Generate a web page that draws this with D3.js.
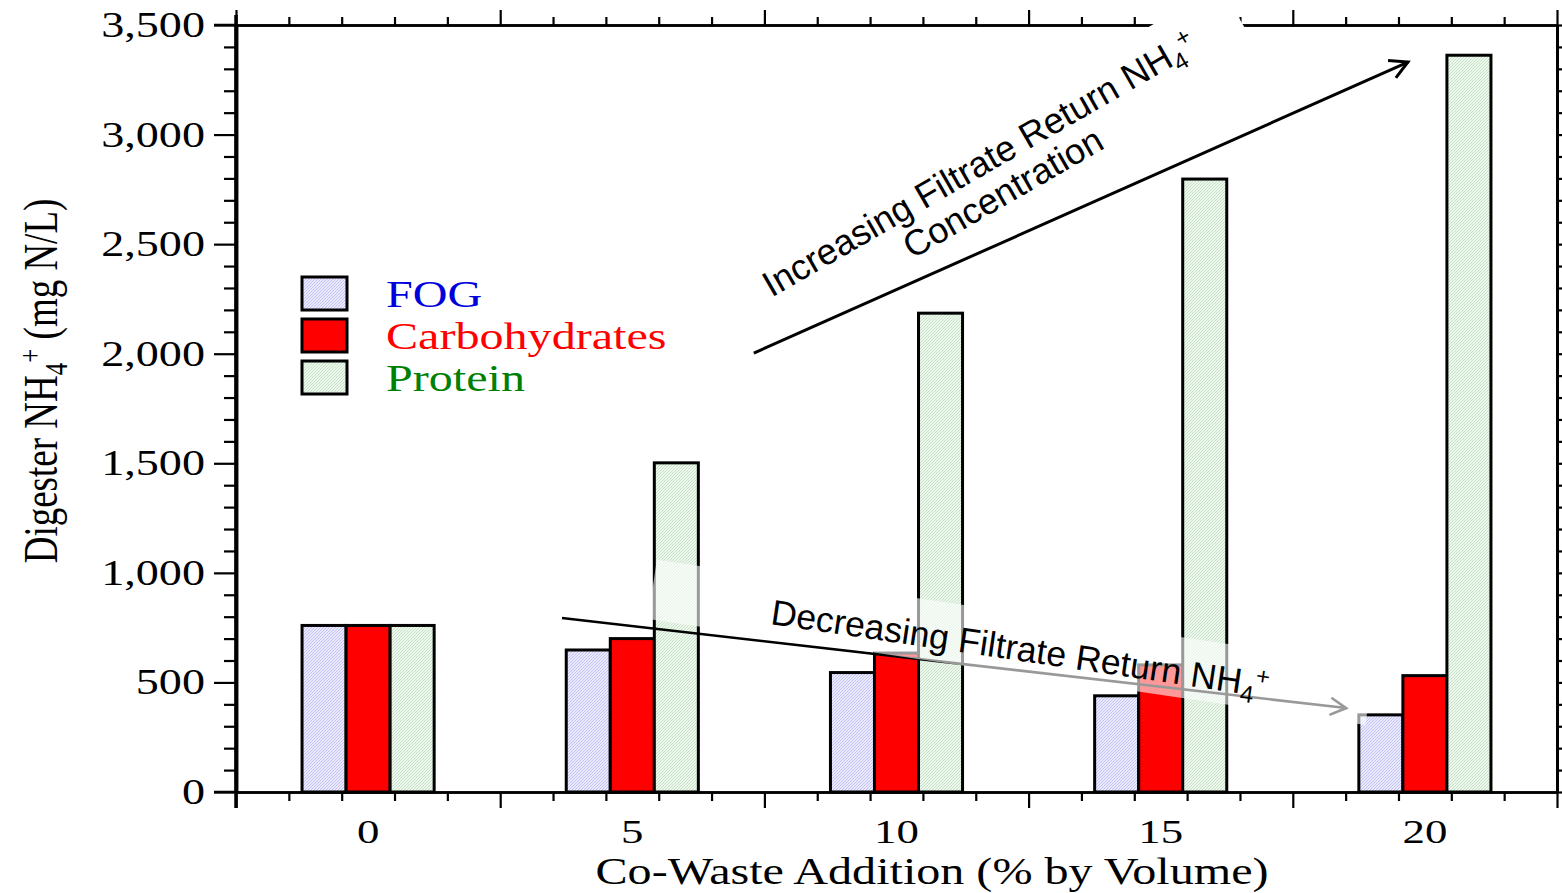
<!DOCTYPE html>
<html>
<head>
<meta charset="utf-8">
<script src="https://cdn.jsdelivr.net/npm/d3@7"></script>
<style>
  html, body { margin: 0; padding: 0; background: #fff; }
  svg { display: block; }
  .serif { font-family: "Liberation Serif", "Times New Roman", serif; }
  .sans { font-family: "Liberation Sans", Arial, sans-serif; }
</style>
</head>
<body>
<svg id="chart" width="1562" height="893"></svg>
<script>
// Co-waste addition levels (% by volume)
const categories = [0, 5, 10, 15, 20];
// Digester NH4+ (mg N/L) for each co-waste type
const fog      = [760, 648, 545, 439, 352];
const carbs    = [760, 700, 634, 580, 531];
const protein  = [760, 1502, 2185, 2797, 3362];
const seriesNames = ["FOG", "Carbohydrates", "Protein"];
const yTickValues = [0, 500, 1000, 1500, 2000, 2500, 3000, 3500];

const W = 1562, H = 893;
const plot = { left: 236, right: 1557, top: 25, bottom: 792 };
const STRETCH = 1.3; // horizontal stretch of the serif labels

const svg = d3.select("#chart");

// x is a continuous category axis: each category occupies a 5-unit slot
const x = d3.scaleLinear().domain([-2.5, 22.5]).range([plot.left, plot.right]);
const y = d3.scaleLinear().domain([0, 3500]).range([plot.bottom, plot.top]);

const xMajor = d3.range(-2.5, 22.6, 5);
const xMinor = d3.range(-2.5, 22.6, 1).filter(v => !xMajor.some(m => Math.abs(m - v) < 1e-6));
const yMinor = d3.range(0, 3501, 100).filter(v => v % 500 !== 0);

// ---- fill patterns ----
const defs = svg.append("defs");
function hatch(id, bg, fg) {
  const p = defs.append("pattern").attr("id", id)
    .attr("patternUnits", "userSpaceOnUse").attr("width", 3).attr("height", 3);
  p.append("rect").attr("width", 3).attr("height", 3).attr("fill", bg);
  p.append("path").attr("d", "M-1,1 l2,-2 M0,3 l3,-3 M2,4 l2,-2")
    .attr("stroke", fg).attr("stroke-width", 0.7);
}
hatch("fogFill", "#eaeafc", "#b0b0f2");
hatch("protFill", "#edf7ed", "#b6dab6");
const fills = ["url(#fogFill)", "#ff0000", "url(#protFill)"];
const labelColors = ["#0000dd", "#ff0000", "#008000"];

// ---- bars ----
const series = [fog, carbs, protein];
const groupWidth = 2.5, barW = groupWidth / 3;
const barsG = svg.append("g");
series.forEach((vals, si) => {
  barsG.selectAll(null).data(categories.map((c, i) => ({ c, v: vals[i] })))
    .join("rect")
    .attr("x", d => x(d.c - groupWidth / 2 + si * barW))
    .attr("width", d => x(d.c - groupWidth / 2 + (si + 1) * barW) - x(d.c - groupWidth / 2 + si * barW))
    .attr("y", d => y(d.v))
    .attr("height", d => y(0) - y(d.v))
    .attr("fill", fills[si])
    .attr("stroke", "#000")
    .attr("stroke-width", 3);
});

// ---- axes ----
function styleAxis(g, w) {
  g.selectAll("path.domain").attr("stroke", "#000").attr("stroke-width", w);
  g.selectAll(".tick line").attr("stroke", "#000").attr("stroke-width", 2.2);
  g.selectAll(".tick text").remove();
}
const axes = svg.append("g");
// left
axes.append("g").attr("transform", `translate(${plot.left},0)`)
  .call(d3.axisLeft(y).tickValues(yTickValues).tickSize(22).tickSizeOuter(0)).call(g => styleAxis(g, 3.5));
axes.append("g").attr("transform", `translate(${plot.left},0)`)
  .call(d3.axisLeft(y).tickValues(yMinor).tickSize(12).tickSizeOuter(0)).call(g => styleAxis(g, 3.5));
// right
axes.append("g").attr("transform", `translate(${plot.right},0)`)
  .call(d3.axisRight(y).tickValues(yTickValues).tickSize(22).tickSizeOuter(0)).call(g => styleAxis(g, 3));
axes.append("g").attr("transform", `translate(${plot.right},0)`)
  .call(d3.axisRight(y).tickValues(yMinor).tickSize(12).tickSizeOuter(0)).call(g => styleAxis(g, 3));
// bottom
axes.append("g").attr("transform", `translate(0,${plot.bottom})`)
  .call(d3.axisBottom(x).tickValues(xMajor).tickSize(16).tickSizeOuter(0)).call(g => styleAxis(g, 2.5));
axes.append("g").attr("transform", `translate(0,${plot.bottom})`)
  .call(d3.axisBottom(x).tickValues(xMinor).tickSize(9).tickSizeOuter(0)).call(g => styleAxis(g, 2.5));
// top
axes.append("g").attr("transform", `translate(0,${plot.top})`)
  .call(d3.axisTop(x).tickValues(xMajor).tickSize(15).tickSizeOuter(0)).call(g => styleAxis(g, 2.5));
axes.append("g").attr("transform", `translate(0,${plot.top})`)
  .call(d3.axisTop(x).tickValues(xMinor).tickSize(8).tickSizeOuter(0)).call(g => styleAxis(g, 2.5));
// extend the left axis a little past the top and bottom lines
axes.append("line").attr("x1", plot.left).attr("x2", plot.left)
  .attr("y1", plot.top - 10).attr("y2", plot.bottom + 16)
  .attr("stroke", "#000").attr("stroke-width", 3.5);
axes.append("line").attr("x1", plot.left - 22).attr("x2", plot.left)
  .attr("y1", plot.top).attr("y2", plot.top).attr("stroke", "#000").attr("stroke-width", 2.5);
axes.append("line").attr("x1", plot.left - 22).attr("x2", plot.left)
  .attr("y1", plot.bottom).attr("y2", plot.bottom).attr("stroke", "#000").attr("stroke-width", 2.5);

// ---- tick labels and titles (stretched serif) ----
const fmt = d3.format(",");
const labels = svg.append("g").attr("class", "serif").attr("fill", "#000");
labels.selectAll(null).data(yTickValues).join("text")
  .attr("transform", d => `translate(205,${y(d) + 12}) scale(${STRETCH},1)`)
  .attr("text-anchor", "end").attr("font-size", 35.5)
  .text(d => fmt(d));
labels.selectAll(null).data(categories).join("text")
  .attr("transform", d => `translate(${x(d)},${843}) scale(${STRETCH},1)`)
  .attr("text-anchor", "middle").attr("font-size", 34.5)
  .text(d => d);
labels.append("text")
  .attr("transform", `translate(932,884) scale(${STRETCH},1)`)
  .attr("text-anchor", "middle").attr("font-size", 37)
  .text("Co-Waste Addition (% by Volume)");
const yTitle = labels.append("text")
  .attr("transform", `translate(57,381) scale(${STRETCH},1) rotate(-90)`)
  .attr("text-anchor", "middle").attr("font-size", 37);
yTitle.append("tspan").text("Digester NH");
yTitle.append("tspan").attr("font-size", 25).attr("baseline-shift", "-8").text("4");
yTitle.append("tspan").attr("font-size", 25).attr("baseline-shift", "12").text("+");
yTitle.append("tspan").text(" (mg N/L)");

// ---- legend ----
const legend = svg.append("g");
const legY = [277, 319, 361];
seriesNames.forEach((name, i) => {
  legend.append("rect").attr("x", 302).attr("y", legY[i]).attr("width", 45).attr("height", 33)
    .attr("fill", fills[i]).attr("stroke", "#000").attr("stroke-width", 3);
  legend.append("text").attr("class", "serif")
    .attr("transform", `translate(386,${legY[i] + 30}) scale(${STRETCH},1)`)
    .attr("font-size", 37).attr("fill", labelColors[i]).text(name);
});

// ---- annotations ----
const ann = svg.append("g");
function arrow(g, p0, p1, color, width, len) {
  g.append("line").attr("x1", p0[0]).attr("y1", p0[1]).attr("x2", p1[0]).attr("y2", p1[1])
    .attr("stroke", color).attr("stroke-width", width);
  const a = Math.atan2(p1[1] - p0[1], p1[0] - p0[0]) + Math.PI;
  const s = 0.5;
  g.append("path")
    .attr("d", `M${p1[0] + len * Math.cos(a - s)},${p1[1] + len * Math.sin(a - s)}L${p1[0]},${p1[1]}L${p1[0] + len * Math.cos(a + s)},${p1[1] + len * Math.sin(a + s)}`)
    .attr("fill", "none").attr("stroke", color).attr("stroke-width", width).attr("stroke-linejoin", "miter");
}

// increasing trend: opaque text box, arrow, label
const incAnchor = [x(11.68), y(2818)];
const incAngle = -30;
const incG = ann.append("g").attr("transform", `translate(${incAnchor[0]},${incAnchor[1]}) rotate(${incAngle})`);
incG.append("rect").attr("x", -300).attr("y", -46).attr("width", 598).attr("height", 94).attr("fill", "#fff");

arrow(ann, [x(7.3), y(2003)], [x(19.68), y(3331)], "#000", 3, 20);
arrow(ann, [x(3.67), y(794)], [x(18.51), y(383)], "#000", 2.6, 18);

// decreasing trend: translucent text box over the bars
const decAnchor = [x(7.6), y(767)];
const decAngle = 8.4;
const decG = ann.append("g").attr("transform", `translate(${decAnchor[0]},${decAnchor[1]}) rotate(${decAngle})`);
decG.append("rect").attr("x", -121).attr("y", -47).attr("width", 725).attr("height", 60)
  .attr("fill", "#fff").attr("fill-opacity", 0.6);
const decText = decG.append("text").attr("class", "sans").attr("font-size", 35.5).attr("fill", "#000");
decText.append("tspan").text("Decreasing Filtrate Return NH");
decText.append("tspan").attr("font-size", 24).attr("baseline-shift", "-8").text("4");
decText.append("tspan").attr("font-size", 24).attr("baseline-shift", "12").text("+");

const incText = incG.append("text").attr("class", "sans").attr("font-size", 36)
  .attr("text-anchor", "middle").attr("fill", "#000");
incText.append("tspan").text("Increasing Filtrate Return NH");
incText.append("tspan").attr("font-size", 24).attr("baseline-shift", "-8").text("4");
incText.append("tspan").attr("font-size", 24).attr("baseline-shift", "12").text("+");
incG.append("text").attr("class", "sans").attr("font-size", 36)
  .attr("text-anchor", "middle").attr("x", 6).attr("y", 37).text("Concentration");
</script>
</body>
</html>
